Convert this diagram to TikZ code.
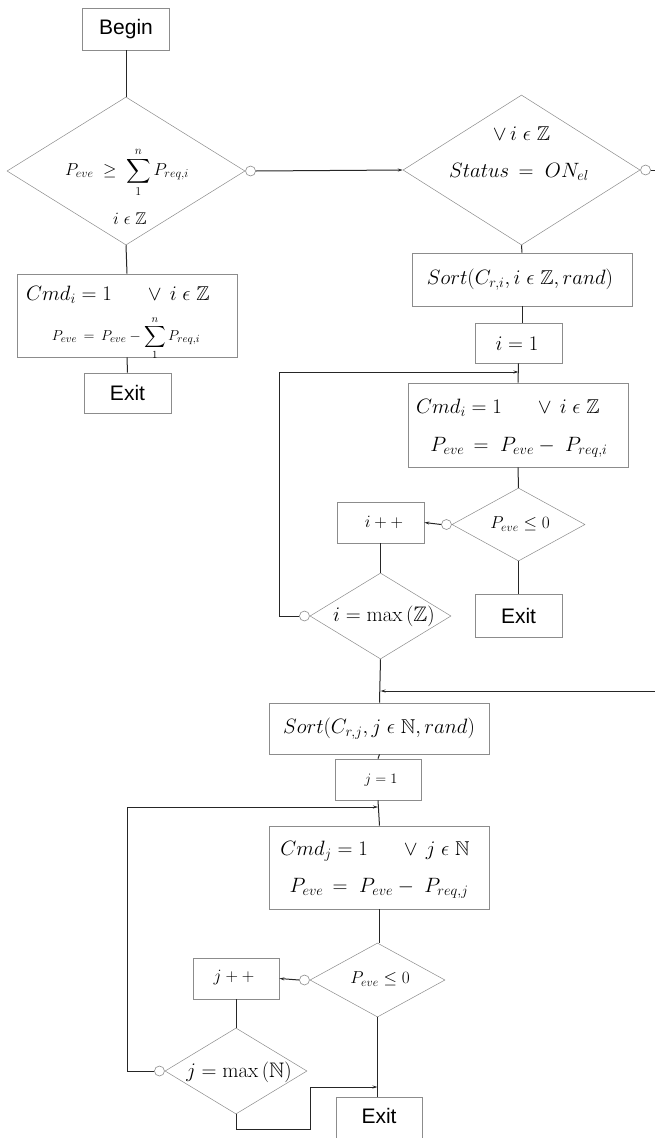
\documentclass[tikz,border=0pt]{standalone}
\usepackage{amsmath,amssymb}
\usepackage{fontspec}
\newfontfamily\sansfnt{Liberation Sans}
\usetikzlibrary{shapes.geometric,arrows.meta}
\tikzset{
  box/.style={draw=black!45, line width=0.7pt, fill=white, inner sep=0pt},
  dia/.style={draw=black!45, line width=0.5pt, diamond, inner sep=0pt},
  txt/.style={inner sep=0pt, align=center},
  circ/.style={draw=black!45, line width=0.6pt, circle, minimum size=10pt, inner sep=0pt, fill=white},
  conn/.style={draw=black!85, line width=1pt},
  arr/.style={conn, -{Stealth[length=5pt,width=3pt]}},
  sans/.style={font=\sansfnt\fontsize{21}{24}\selectfont},
  mbig/.style={font=\fontsize{20}{24}\selectfont},
  mmid/.style={font=\fontsize{18}{22}\selectfont},
  mdia/.style={font=\fontsize{17}{20}\selectfont},
  msmall/.style={font=\fontsize{15}{18}\selectfont},
  mmax/.style={font=\fontsize{21}{24}\selectfont},
}
\begin{document}
\begin{tikzpicture}[x=1pt,y=-1pt]
\clip (0,0) rectangle (655,1138);
\useasboundingbox (0,0) rectangle (655,1138);
\fill[white] (0,0) rectangle (655,1138);

% ---- left column ----
\node[box, sans, minimum width=87pt, minimum height=42pt] (begin) at (126,29) {Begin};
\node[dia, minimum width=238pt, minimum height=148pt] (d1) at (126,171) {};
\node[txt, mdia] (t1) at (127,172) {$P_{eve}\;\geq\;\displaystyle\sum_{1}^{n} P_{req,i}$};
\node[txt, mdia] (t1b) at (130,219) {$i\;\epsilon\;\mathbb{Z}$};
\node[circ, anchor=west] (c1) at (d1.east) {};

\node[box, minimum width=220pt, minimum height=83pt] (b1) at (127,315.5) {};
\node[txt, mbig] (b1a) at (118,295) {$Cmd_i = 1\quad\;\;\vee\, i\;\epsilon\;\mathbb{Z}$};
\node[txt, msmall] (b1b) at (126,338) {$P_{eve}\,=\,P_{eve}-\displaystyle\sum_{1}^{n} P_{req,i}$};
\node[box, sans, minimum width=87pt, minimum height=40pt] (exit1) at (127.5,393) {Exit};

\draw[conn] (begin.south) -- (d1.north);
\draw[conn] (d1.south) -- (b1.north);
\draw[conn] (b1.south) -- (exit1.north);

% ---- right upper ----
\node[dia, minimum width=237pt, minimum height=150pt] (d2) at (521.5,170) {};
\node[txt, mbig] (t2a) at (521.5,134) {$\vee\, i\;\epsilon\;\mathbb{Z}$};
\node[txt, mbig] (t2b) at (519,172) {$Status\,=\;ON_{el}$};
\node[circ, anchor=west] (c2) at (d2.east) {};
\coordinate (r1) at (655,170);
\draw[arr] (c1.east) -- (d2.west);
\draw[conn] (c2.east) -- (r1);

\node[box, minimum width=220pt, minimum height=53pt] (s1) at (522,279.5) {};
\node[txt, mbig] (s1t) at (520,280) {$Sort(C_{r,i}, i\;\epsilon\;\mathbb{Z}, rand)$};
\node[box, minimum width=87pt, minimum height=40pt] (i1) at (518.5,343) {};
\node[txt, mbig] (i1t) at (517,344) {$i = 1$};
\draw[conn] (d2.south) -- (s1.north);
\draw[conn] (s1.south) -- (s1.south |- i1.north);

\node[box, minimum width=220pt, minimum height=84pt] (b2) at (518,425) {};
\node[txt, mbig] (b2a) at (508,408) {$Cmd_i = 1\quad\;\;\vee\, i\;\epsilon\;\mathbb{Z}$};
\node[txt, mbig] (b2b) at (519,447) {$P_{eve}\,=\;P_{eve}-\;P_{req,i}$};
\draw[conn] (i1.south) -- (b2.north);

\node[dia, minimum width=133pt, minimum height=73pt] (d3) at (518.5,524.5) {};
\node[txt, mmid] (d3t) at (520,524) {$P_{eve}\leq 0$};
\node[circ, anchor=east] (c3) at (d3.west) {};
\node[box, minimum width=87pt, minimum height=41pt] (ipp) at (380.5,522.5) {};
\node[txt, mmid] (ippt) at (384,522) {$i + +$};
\node[box, sans, minimum width=87pt, minimum height=43pt] (exit2) at (518.5,615.5) {Exit};
\draw[conn] (b2.south) -- (d3.north);
\draw[arr] (c3.west) -- (ipp.east);
\draw[conn] (d3.south) -- (exit2.north);

\node[dia, minimum width=141pt, minimum height=86pt] (d4) at (380.5,616) {};
\node[txt, mmax] (d4t) at (384,616) {$i = \max\,(\mathbb{Z})$};
\node[circ, anchor=east] (c4) at (d4.west) {};
\draw[conn] (ipp.south) -- (d4.north);
\coordinate (L1) at (279,372);
\coordinate (A1) at (518.5,372);
\draw[arr] (c4.west) -| (L1) -- (A1);

% ---- lower part ----
\node[box, minimum width=220pt, minimum height=51pt] (s2) at (379.5,728.5) {};
\node[txt, mbig] (s2t) at (379,729) {$Sort(C_{r,j}, j\;\epsilon\;\mathbb{N}, rand)$};
\draw[conn] (d4.south) -- (s2.north);
\coordinate (R2) at (655,691);
\coordinate (A2) at (380.5,691);
\draw[arr] (R2) -- (A2);

\node[box, minimum width=86pt, minimum height=41pt] (j1) at (378,779.5) {};
\node[txt, msmall] (j1t) at (381,780) {$j = 1$};
\draw[conn] (s2.south) -- (j1.north);

\node[box, minimum width=220pt, minimum height=83pt] (b3) at (379.5,867.5) {};
\node[txt, mbig] (b3a) at (375,851) {$Cmd_j = 1\quad\;\;\vee\, j\;\epsilon\;\mathbb{N}$};
\node[txt, mbig] (b3b) at (379,888) {$P_{eve}\,=\;P_{eve}-\;P_{req,j}$};
\draw[conn] (j1.south) -- (b3.north);
\coordinate (L2) at (127,807);
\coordinate (A3) at (378,807);

\node[dia, minimum width=135pt, minimum height=74pt] (d5) at (377.5,980) {};
\node[txt, mmid] (d5t) at (380,979) {$P_{eve}\leq 0$};
\node[circ, anchor=east] (c5) at (d5.west) {};
\node[box, minimum width=86pt, minimum height=41pt] (jpp) at (236,978.5) {};
\node[txt, mmid] (jppt) at (234,978) {$j + +$};
\draw[conn] (b3.south) -- (b3.south |- d5.north);
\draw[arr] (c5.west) -- (jpp.east);

\node[dia, minimum width=142pt, minimum height=86pt] (d6) at (236,1071) {};
\node[txt, mmax] (d6t) at (239,1072) {$j = \max\,(\mathbb{N})$};
\node[circ, anchor=east] (c6) at (d6.west) {};
\draw[conn] (jpp.south) -- (d6.north);
\draw[arr] (c6.west) -| (L2) -- (A3);

\node[box, sans, minimum width=86pt, minimum height=46pt] (exit3) at (379,1120) {};
\node[txt, sans] (exit3t) at (379,1116) {Exit};
\draw[conn] (d5.south) -- (d5.south |- exit3.north);
\coordinate (B1) at (310,1129);
\coordinate (B2) at (377.5,1087);
\draw[arr] (d6.south) |- (B1) |- (B2);
\end{tikzpicture}
\end{document}
